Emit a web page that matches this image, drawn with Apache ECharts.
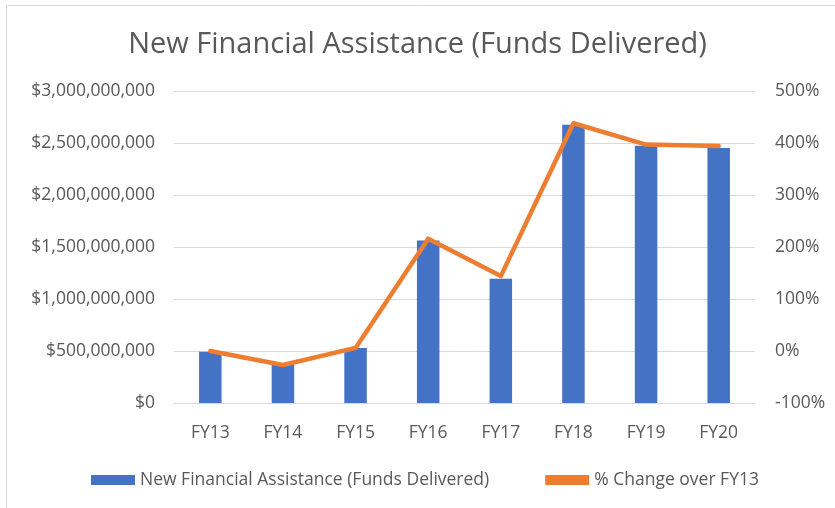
<!DOCTYPE html>
<html>
<head>
<meta charset="utf-8">
<script src="https://cdn.jsdelivr.net/npm/echarts@6/dist/echarts.min.js"></script>
<style>html,body{margin:0;padding:0;background:#fff}#c{width:835px;height:508px}</style>
</head>
<body>
<div id="c"></div>
<script>
const categories = ['FY13','FY14','FY15','FY16','FY17','FY18','FY19','FY20'];
const fundsDelivered = [492000000, 368000000, 530000000, 1563000000, 1195000000, 2676000000, 2474000000, 2452000000];
const pctChange = [0, -27, 6, 216, 144, 438, 397, 394];
const titleText = 'New Financial Assistance (Funds Delivered)';
const seriesNames = ['New Financial Assistance (Funds Delivered)', '% Change over FY13'];

function money(v){
  const s = Math.round(v).toString().replace(/\B(?=(\d{3})+(?!\d))/g, ',');
  return '$' + s;
}
const FONT = 'Open Sans';
const GREY = '#595959';
const FS = 17.5;
const chart = echarts.init(document.getElementById('c'), null, {renderer:'canvas'});
chart.setOption({
  animation:false,
  backgroundColor:'#fff',
  textStyle:{fontFamily:FONT},
  graphic:[{type:'rect', shape:{x:6.5,y:5.5,width:840,height:520}, style:{fill:'none', stroke:'#d9d9d9', lineWidth:1}, silent:true}],
  title:{text:titleText, left:'center', top:25, textStyle:{fontFamily:FONT, fontSize:29, fontWeight:'normal', color:GREY}},
  grid:{left:174, right:80, top:91, bottom:105, containLabel:false},
  legend:{top:466, left:86, itemWidth:44, itemHeight:10, itemGap:56,
    textStyle:{fontFamily:FONT, fontSize:FS, color:GREY},
    data:[{name:seriesNames[0], icon:'rect'}, {name:seriesNames[1], icon:'rect', itemStyle:{color:'#ED7D31'}}]},
  xAxis:{type:'category', data:categories,
    axisLine:{show:true, lineStyle:{color:'#d9d9d9'}}, axisTick:{show:false},
    axisLabel:{color:GREY, fontSize:FS, fontFamily:FONT, margin:21}},
  yAxis:[
    {type:'value', min:0, max:3000000000, interval:500000000,
      axisLine:{show:false}, axisTick:{show:false},
      splitLine:{lineStyle:{color:'#d9d9d9', width:1}},
      axisLabel:{color:GREY, fontSize:FS, fontFamily:FONT, margin:19, formatter:money}},
    {type:'value', min:-100, max:500, interval:100,
      axisLine:{show:false}, axisTick:{show:false}, splitLine:{show:false},
      axisLabel:{color:GREY, fontSize:FS, fontFamily:FONT, margin:20, formatter:v=>v+'%'}}
  ],
  series:[
    {name:seriesNames[0], type:'bar', data:fundsDelivered, yAxisIndex:0, barWidth:'31%',
      itemStyle:{color:'#4472C4'}},
    {name:seriesNames[1], type:'line', data:pctChange, yAxisIndex:1, symbol:'none',
      lineStyle:{color:'#ED7D31', width:4.5, cap:'round', join:'round'}, itemStyle:{color:'#ED7D31'}}
  ]
});
</script>
</body>
</html>
